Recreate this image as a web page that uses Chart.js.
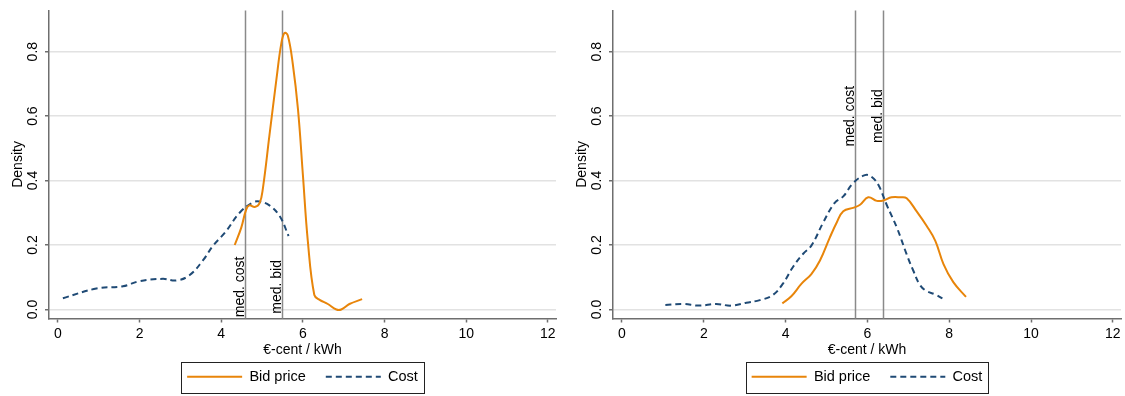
<!DOCTYPE html>
<html lang="en">
<head>
<meta charset="UTF-8">
<title>Bid price and cost densities</title>
<style>
  body { margin: 0; background: #fff; }
  .panel { position: absolute; top: 0; height: 396px; }
  #left { left: 0; width: 562px; }
  #right { left: 564px; width: 561px; }
</style>
</head>
<body>
<div class="panel" id="left"><canvas id="chartLeft"></canvas></div>
<div class="panel" id="right"><canvas id="chartRight"></canvas></div>
<script src="https://cdn.jsdelivr.net/npm/chart.js@4.4.0/dist/chart.umd.min.js"></script>
<script>
const xTicks = [0, 2, 4, 6, 8, 10, 12];
const yTicks = [0, 0.2, 0.4, 0.6, 0.8];
const seriesNames = ['Bid price', 'Cost'];
const medianNames = ['med. cost', 'med. bid'];

// left panel
const leftBidX = [4.33, 4.49, 4.61, 4.69, 4.82, 4.94, 5.02, 5.18, 5.35, 5.47, 5.55, 5.63, 5.75, 5.88, 6.0, 6.12, 6.28, 6.41, 6.61, 6.82, 6.94, 7.14, 7.45];
const leftBidY = [0.20, 0.254, 0.31, 0.323, 0.318, 0.330, 0.376, 0.54, 0.713, 0.825, 0.858, 0.85, 0.764, 0.62, 0.417, 0.213, 0.045, 0.03, 0.017, 0.0, 0.0, 0.017, 0.032];
const leftCostX = [0.12, 0.94, 1.59, 2.0, 2.57, 2.9, 3.22, 3.55, 3.8, 4.1, 4.45, 4.77, 4.94, 5.18, 5.43, 5.65];
const leftCostY = [0.035, 0.065, 0.072, 0.088, 0.095, 0.090, 0.106, 0.152, 0.198, 0.240, 0.30, 0.332, 0.335, 0.323, 0.29, 0.228];
const leftMedians = [4.59, 5.48];

// right panel
const rightBidX = [3.92, 4.14, 4.39, 4.63, 4.84, 5.08, 5.25, 5.41, 5.67, 5.82, 6.02, 6.23, 6.39, 6.59, 6.8, 6.96, 7.2, 7.45, 7.66, 7.86, 8.1, 8.41];
const rightBidY = [0.019, 0.041, 0.08, 0.11, 0.152, 0.223, 0.27, 0.305, 0.316, 0.325, 0.348, 0.337, 0.338, 0.348, 0.348, 0.345, 0.305, 0.259, 0.213, 0.141, 0.085, 0.039];
const rightCostX = [1.06, 1.49, 1.89, 2.3, 2.67, 3.04, 3.37, 3.69, 3.94, 4.18, 4.43, 4.63, 4.92, 5.2, 5.41, 5.65, 5.94, 6.1, 6.27, 6.47, 6.72, 6.96, 7.12, 7.29, 7.45, 7.65, 7.9];
const rightCostY = [0.014, 0.017, 0.012, 0.017, 0.012, 0.021, 0.029, 0.045, 0.081, 0.132, 0.173, 0.198, 0.27, 0.331, 0.351, 0.392, 0.417, 0.412, 0.386, 0.325, 0.254, 0.171, 0.121, 0.075, 0.057, 0.047, 0.029];
const rightMedians = [5.69, 6.39];

const FONT = '"Liberation Sans", Arial, sans-serif';
const ORANGE = '#e8850a';
const NAVY = '#1f4a75';
const AXIS = '#6e6e6e';

const toPoints = (xs, ys) => xs.map((x, i) => ({x, y: ys[i]}));

// vertical median lines with rotated labels, drawn under the curves
const medianLines = {
  id: 'medianLines',
  beforeDatasetsDraw(chart, args, opts) {
    const {ctx, chartArea, scales: {x, y}} = chart;
    ctx.save();
    opts.values.forEach((v, i) => {
      const px = Math.round(x.getPixelForValue(v)) + 0.5;
      ctx.strokeStyle = '#8a8a8a';
      ctx.lineWidth = 1.5;
      ctx.beginPath();
      ctx.moveTo(px, chartArea.top);
      ctx.lineTo(px, chartArea.bottom);
      ctx.stroke();
      ctx.save();
      ctx.translate(px - 2, y.getPixelForValue(opts.labelAt));
      ctx.rotate(-Math.PI / 2);
      ctx.font = '14px ' + FONT;
      ctx.fillStyle = '#000';
      ctx.textAlign = 'center';
      ctx.textBaseline = 'alphabetic';
      ctx.fillText(medianNames[i], 0, 0);
      ctx.restore();
    });
    ctx.restore();
  }
};

// thin frame around the legend items
const legendFrame = {
  id: 'legendFrame',
  afterDraw(chart) {
    const boxes = chart.legend && chart.legend.legendHitBoxes;
    if (!boxes || !boxes.length) return;
    const first = boxes[0];
    const last = boxes[boxes.length - 1];
    const l = Math.round(first.left - 6) + 0.5;
    const r = Math.round(last.left + last.width + 6) + 0.5;
    const t = Math.round(first.top - 8) + 0.5;
    const b = Math.round(first.top + 23) + 0.5;
    const ctx = chart.ctx;
    ctx.save();
    ctx.strokeStyle = '#222';
    ctx.lineWidth = 1;
    ctx.strokeRect(l, t, r - l, b - t);
    ctx.restore();
  }
};

// legend keys as line samples, keeping each dataset's dash pattern
function lineKeys(chart) {
  const items = Chart.defaults.plugins.legend.labels.generateLabels(chart);
  return items.map(item => {
    const ds = chart.data.datasets[item.datasetIndex];
    return Object.assign(item, {
      pointStyle: 'line',
      strokeStyle: ds.borderColor,
      lineWidth: ds.borderWidth,
      lineDash: ds.borderDash || []
    });
  });
}

function makeChart(id, bidX, bidY, costX, costY, medians, labelAt, padRight) {
  return new Chart(document.getElementById(id), {
    type: 'line',
    data: {
      datasets: [
        {
          label: seriesNames[0],
          data: toPoints(bidX, bidY),
          borderColor: ORANGE,
          backgroundColor: ORANGE,
          borderWidth: 2,
          pointRadius: 0,
          tension: 0.4,
          fill: false
        },
        {
          label: seriesNames[1],
          data: toPoints(costX, costY),
          borderColor: NAVY,
          backgroundColor: NAVY,
          borderWidth: 2,
          borderDash: [6, 4],
          pointRadius: 0,
          tension: 0.4,
          fill: false
        }
      ]
    },
    options: {
      responsive: true,
      maintainAspectRatio: false,
      animation: false,
      layout: { autoPadding: false, padding: { left: 0, right: padRight, top: 6, bottom: 2 } },
      scales: {
        x: {
          type: 'linear',
          min: -0.22,
          max: 12.2,
          afterBuildTicks: s => { s.ticks = xTicks.map(v => ({value: v})); },
          afterFit: s => { s.height = 31; },
          grid: { drawOnChartArea: false, tickLength: 4, tickColor: AXIS, tickWidth: 1.5 },
          border: { color: AXIS, width: 1.5 },
          ticks: { maxRotation: 0, padding: 3, color: '#000', font: { family: FONT, size: 14 } },
          title: { display: true, text: '€-cent / kWh', color: '#000', font: { family: FONT, size: 14 }, padding: { top: 0, bottom: -9 } }
        },
        y: {
          type: 'linear',
          min: -0.028,
          max: 0.928,
          afterBuildTicks: s => { s.ticks = yTicks.map(v => ({value: v})); },
          afterFit: s => { s.width = 49; },
          grid: { color: '#e2e2e2', lineWidth: 1.5, tickLength: 4, tickColor: AXIS, tickWidth: 1.5 },
          border: { color: AXIS, width: 1.5 },
          ticks: {
            minRotation: 90, maxRotation: 90, crossAlign: 'center', padding: 2,
            color: '#000', font: { family: FONT, size: 14 },
            callback: v => v.toFixed(1)
          },
          title: { display: true, text: 'Density', color: '#000', font: { family: FONT, size: 14 }, padding: { top: 9.5, bottom: 0 } }
        }
      },
      plugins: {
        legend: {
          position: 'bottom',
          fullSize: false,
          labels: {
            usePointStyle: true,
            pointStyleWidth: 55,
            boxHeight: 14,
            padding: 20,
            color: '#000',
            font: { family: FONT, size: 14.5 },
            generateLabels: lineKeys
          }
        },
        tooltip: { enabled: false },
        medianLines: { values: medians, labelAt: labelAt }
      }
    },
    plugins: [medianLines, legendFrame]
  });
}

makeChart('chartLeft', leftBidX, leftBidY, leftCostX, leftCostY, leftMedians, 0.07, 6);
makeChart('chartRight', rightBidX, rightBidY, rightCostX, rightCostY, rightMedians, 0.6, 4);
</script>
</body>
</html>
